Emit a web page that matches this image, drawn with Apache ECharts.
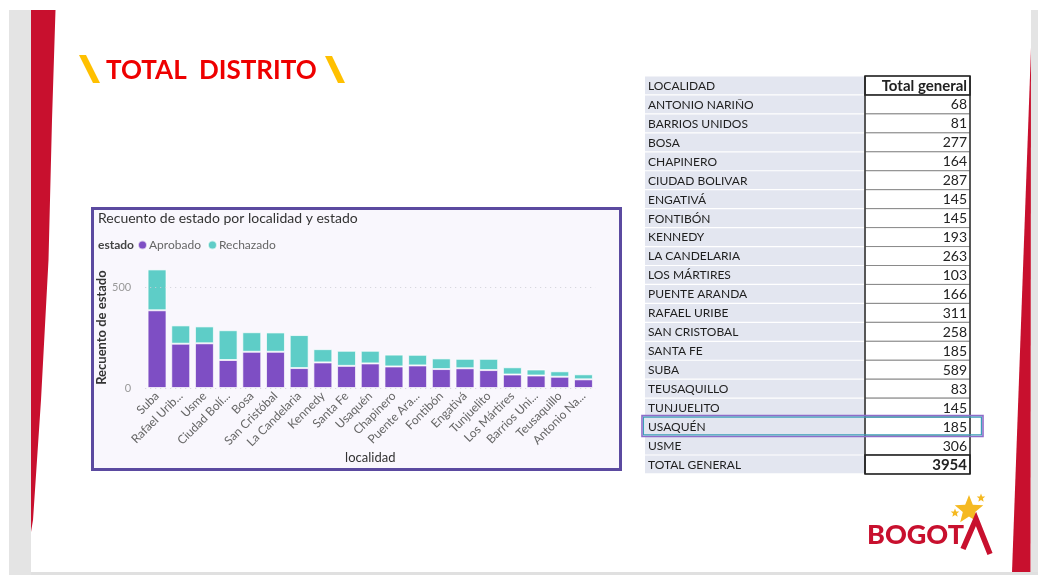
<!DOCTYPE html>
<html><head><meta charset="utf-8">
<script src="https://cdn.jsdelivr.net/npm/echarts@6/dist/echarts.min.js"></script>
<style>html,body{margin:0;padding:0;background:#fff}#c{width:1038px;height:575px}</style>
</head><body><div id="c"></div>
<script>
// ---- chart data ----
const categories = ['Suba','Rafael Uribe','Usme','Ciudad Bolívar','Bosa','San Cristóbal','La Candelaria','Kennedy','Santa Fe','Usaquén','Chapinero','Puente Aranda','Fontibón','Engativá','Tunjuelito','Los Mártires','Barrios Unidos','Teusaquillo','Antonio Nariño'];
const tickLabels = ['Suba','Rafael Urib...','Usme','Ciudad Bolí...','Bosa','San Cristóbal','La Candelaria','Kennedy','Santa Fe','Usaquén','Chapinero','Puente Ara...','Fontibón','Engativá','Tunjuelito','Los Mártires','Barrios Uni...','Teusaquillo','Antonio Na...'];
const aprobado  = [386,220,222,139,180,180, 99,127,110,122,107,112, 94, 98, 89, 67, 62, 56, 43];
const rechazado = [203, 91, 84,148, 97, 96,164, 66, 75, 63, 59, 53, 53, 47, 56, 36, 30, 27, 25];
const yTicks = [0, 500];

// ---- table data ----
const tableHeader = ['LOCALIDAD', 'Total general'];
const tableNames = ['ANTONIO NARIÑO','BARRIOS UNIDOS','BOSA','CHAPINERO','CIUDAD BOLIVAR','ENGATIVÁ','FONTIBÓN','KENNEDY','LA CANDELARIA','LOS MÁRTIRES','PUENTE ARANDA','RAFAEL URIBE','SAN CRISTOBAL','SANTA FE','SUBA','TEUSAQUILLO','TUNJUELITO','USAQUÉN','USME'];
const tableTotals = [68,81,277,164,287,145,145,193,263,103,166,311,258,185,589,83,145,185,306];
const grandTotalLabel = 'TOTAL GENERAL';
const grandTotal = 3954;
const highlightedRow = 'USAQUÉN';

const FONT = 'Lato';
const g = [];

// slide frame
g.push({type:'rect', shape:{x:9,y:10,width:22,height:565}, style:{fill:'#e4e4e4'}, z:0});
g.push({type:'rect', shape:{x:1031,y:10,width:7,height:565}, style:{fill:'#e4e4e4'}, z:0});
g.push({type:'rect', shape:{x:31,y:572,width:1007,height:3}, style:{fill:'#e0e0e0'}, z:0});
g.push({type:'polygon', shape:{points:[[31,10],[55.5,10],[52,120],[48.5,260],[41,400],[33,520],[31,532]]}, style:{fill:'#c8102e'}, z:1});
g.push({type:'polygon', shape:{points:[[1031,48],[1030.5,572],[1012,572]]}, style:{fill:'#c8102e'}, z:1});

// title
g.push({type:'polygon', shape:{points:[[79,55],[86,55],[100,83],[93,83]]}, style:{fill:'#ffc000'}, z:2});
g.push({type:'polygon', shape:{points:[[325,56],[332,56],[345,83],[338,83]]}, style:{fill:'#ffc000'}, z:2});
g.push({type:'text', x:106, y:71, style:{text:'TOTAL', font:'bold 26px '+FONT, fill:'#ee0000', textVerticalAlign:'middle'}, z:2});
g.push({type:'text', x:199, y:71, style:{text:'DISTRITO', font:'bold 26px '+FONT, fill:'#ee0000', textVerticalAlign:'middle'}, z:2});

// chart panel
g.push({type:'rect', shape:{x:92.5,y:208.5,width:528,height:261}, style:{fill:'#f9f7fd', stroke:'#5b4aa0', lineWidth:3}, z:0});
g.push({type:'text', x:98, y:218, style:{text:'Recuento de estado por localidad y estado', font:'14px '+FONT, fill:'#333', textVerticalAlign:'middle'}, z:2});
g.push({type:'text', x:98, y:245, style:{text:'estado', font:'bold 12px '+FONT, fill:'#444', textVerticalAlign:'middle'}, z:2});

// table
const rowH = 18.95, tTop = 76, lx = 645, lw = 219, rx = 865, rw = 105;
const rows = [[tableHeader[0], tableHeader[1]]].concat(tableNames.map((n,i)=>[n, String(tableTotals[i])])).concat([[grandTotalLabel, String(grandTotal)]]);
rows.forEach((r, i) => {
  const y = tTop + i*rowH;
  g.push({type:'rect', shape:{x:lx, y:y+0.6, width:lw, height:rowH-1.2}, style:{fill:'#e3e6f0'}, z:1});
  g.push({type:'rect', shape:{x:rx, y:y, width:rw, height:rowH}, style:{fill:'#fff', stroke:'#8a8a8a', lineWidth:1}, z:1});
  g.push({type:'text', x:lx+3, y:y+rowH/2+0.5, style:{text:r[0], font:'12px '+FONT, fill:'#1e1e1e', textVerticalAlign:'middle'}, z:3});
  const bold = (i===0 || i===rows.length-1);
  g.push({type:'text', x:rx+rw-3, y:y+rowH/2+0.5, style:{text:r[1], font:(bold?'bold 15px ':'14px ')+FONT, fill:'#222', textAlign:'right', textVerticalAlign:'middle'}, z:3});
});
const tBottom = tTop + rows.length*rowH;
g.push({type:'line', shape:{x1:rx,y1:tTop,x2:rx,y2:tBottom}, style:{stroke:'#333', lineWidth:1.5}, z:2});
g.push({type:'line', shape:{x1:rx+rw,y1:tTop,x2:rx+rw,y2:tBottom}, style:{stroke:'#333', lineWidth:1.5}, z:2});
g.push({type:'rect', shape:{x:rx,y:tTop,width:rw,height:rowH}, style:{fill:null, stroke:'#222', lineWidth:1.5}, z:2});
g.push({type:'rect', shape:{x:rx,y:tBottom-rowH,width:rw,height:rowH}, style:{fill:null, stroke:'#222', lineWidth:1.5}, z:2});
// highlight box
const hi = tableNames.indexOf(highlightedRow) + 1;
const hy = tTop + hi*rowH;
g.push({type:'rect', shape:{x:642, y:hy-1.5, width:341, height:rowH+2}, style:{fill:null, stroke:'#8e6cc9', lineWidth:1.6}, z:4});
g.push({type:'rect', shape:{x:643.6, y:hy+0.1, width:337.8, height:rowH-1.2}, style:{fill:null, stroke:'#3c9fb8', lineWidth:1.2}, z:4});

// logo
function star(cx, cy, R, r){ const p=[]; for(let k=0;k<10;k++){const a=-Math.PI/2+k*Math.PI/5; const rr=k%2?r:R; p.push([cx+rr*Math.cos(a), cy+rr*Math.sin(a)]);} return p; }
g.push({type:'polygon', shape:{points:star(969,510,15,6.5)}, style:{fill:'#f5b921'}, z:3});
g.push({type:'polygon', shape:{points:star(981,498,4.5,2)}, style:{fill:'#f5b921'}, z:3});
g.push({type:'polygon', shape:{points:star(955,513,4.5,2)}, style:{fill:'#f5b921'}, z:3});
g.push({type:'text', x:867, y:549, style:{text:'BOGOT', font:'900 27px '+FONT, fill:'#c8102e', textVerticalAlign:'bottom'}, z:3});
g.push({type:'polyline', shape:{points:[[963,549],[976,519],[990,554]]}, style:{stroke:'#c8102e', lineWidth:5.5, fill:null, lineJoin:'miter'}, z:3});

const chart = echarts.init(document.getElementById('c'), null, {renderer:'canvas'});
chart.setOption({
  animation:false,
  textStyle:{fontFamily:FONT},
  graphic:{elements:g},
  legend:{left:137, top:239, padding:0, itemWidth:9, itemHeight:9, itemGap:6, icon:'circle',
    textStyle:{color:'#666', fontSize:12, fontFamily:FONT, padding:[0,0,0,-3]}, data:['Aprobado','Rechazado']},
  grid:{left:145.2, right:442.7, top:267.2, bottom:187},
  xAxis:{type:'category', data:categories,
    axisLine:{show:false}, axisTick:{show:false},
    axisLabel:{rotate:45, interval:0, color:'#666', fontSize:12, margin:6, formatter:(v,i)=>tickLabels[i]},
    name:'localidad', nameLocation:'middle', nameGap:62, nameTextStyle:{color:'#333', fontSize:13}},
  yAxis:{type:'value', min:0, max:600, interval:500,
    axisLine:{show:false}, axisTick:{show:false}, splitLine:{show:false},
    axisLabel:{color:'#999', fontSize:11, margin:14, showMaxLabel:false},
    name:'Recuento de estado', nameLocation:'middle', nameGap:31, nameTextStyle:{color:'#333', fontSize:13, fontWeight:'bold'}},
  series:[
    {name:'Aprobado', type:'bar', stack:'s', data:aprobado, barCategoryGap:'20%',
      itemStyle:{color:'#7e4ec4', borderColor:'rgba(255,255,255,0.7)', borderWidth:1},
      markLine:{silent:true, symbol:'none', label:{show:false}, lineStyle:{color:'#cfcfd6', type:[1,4], width:1},
        data:yTicks.map(v=>({yAxis:v}))}},
    {name:'Rechazado', type:'bar', stack:'s', data:rechazado,
      itemStyle:{color:'#5ecdc7', borderColor:'rgba(255,255,255,0.7)', borderWidth:1}}
  ]
});
</script></body></html>
